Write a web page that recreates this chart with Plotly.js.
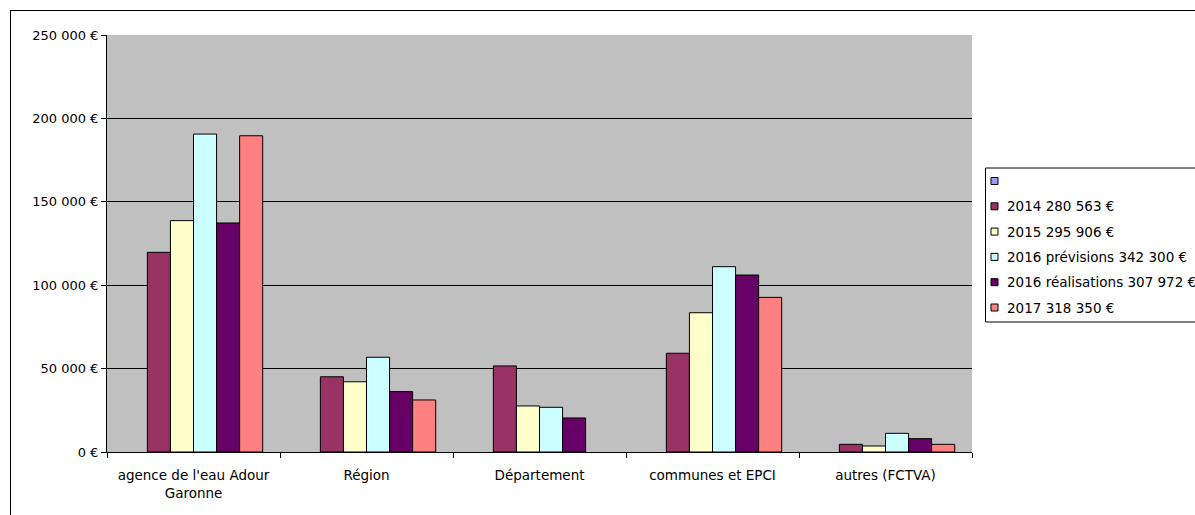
<!DOCTYPE html>
<html><head><meta charset="utf-8">
<script src="https://cdn.plot.ly/plotly-3.0.1.min.js"></script>
<style>body{margin:0;background:#fff}#frame{position:absolute;left:10px;top:10px;width:1300px;height:600px;border-left:1px solid #000;border-top:1px solid #000;pointer-events:none}</style>
</head><body>
<div id="chart" style="width:1195px;height:515px;"></div>
<div id="frame"></div>
<script>
const categories = ["agence de l'eau Adour<br>Garonne", "Région", "Département", "communes et EPCI", "autres (FCTVA)"];
const seriesNames = ["", "2014 280 563 €", "2015 295 906 €", "2016 prévisions 342 300 €", "2016 réalisations 307 972 €", "2017 318 350 €"];
const vEmpty = [null, null, null, null, null];
const v2014 = [119700, 45100, 51600, 59200, 4600];
const v2015 = [138700, 42100, 27600, 83500, 3600];
const v2016p = [190600, 56800, 26800, 111100, 11200];
const v2016r = [137300, 36200, 20400, 106100, 8000];
const v2017 = [189600, 31200, null, 92700, 4600];
const colors = ["#9999FF", "#993366", "#FFFFCC", "#CCFFFF", "#660066", "#FF8080"];
const allValues = [vEmpty, v2014, v2015, v2016p, v2016r, v2017];

const traces = allValues.map((vals, i) => ({
  type: 'bar', x: categories, y: vals, name: seriesNames[i],
  marker: {color: colors[i], line: {color: '#000', width: 1}}
}));

// custom legend (layout helpers: pixel -> paper)
const M = {l: 107, r: 223, t: 35, b: 63};
const W = 1195, H = 515;
const pw = W - M.l - M.r, ph = H - M.t - M.b;
const px = v => (v - M.l) / pw;
const py = v => (H - M.b - v) / ph;

const shapes = [{type: 'rect', xref: 'paper', yref: 'paper', x0: px(985.5), x1: px(1210), y0: py(168), y1: py(322),
  line: {color: '#000', width: 1}, fillcolor: '#fff', layer: 'above'}];
const annotations = [];
seriesNames.forEach((n, i) => {
  const cy = 181 + i * 25.3;
  shapes.push({type: 'rect', xref: 'paper', yref: 'paper', x0: px(991), x1: px(998), y0: py(cy + 3.5), y1: py(cy - 3.5),
    line: {color: '#000', width: 1}, fillcolor: colors[i], layer: 'above'});
  if (n) annotations.push({xref: 'paper', yref: 'paper', x: px(1005), y: py(cy), xanchor: 'left', yanchor: 'middle',
    text: n, showarrow: false, font: {size: 13.5}});
});

const layout = {
  width: W, height: H,
  margin: {l: M.l, r: M.r, t: M.t, b: M.b, autoexpand: false},
  paper_bgcolor: '#fff', plot_bgcolor: '#C0C0C0',
  font: {family: 'DejaVu Sans, Liberation Sans, Arial, sans-serif', size: 13, color: '#000'},
  separators: ', ',
  barmode: 'group', bargap: 0.2, bargroupgap: 0,
  showlegend: false,
  shapes: shapes, annotations: annotations,
  xaxis: {showline: true, linecolor: '#000', linewidth: 1, ticks: 'outside', tickson: 'boundaries',
    ticklen: 5, tickcolor: '#000', showgrid: false, mirror: false, fixedrange: true, ticklabelstandoff: 11,
    tickfont: {size: 13.5}},
  yaxis: {range: [0, 250000], dtick: 50000, tickformat: ',.0f', ticksuffix: ' €',
    showline: true, linecolor: '#000', linewidth: 1, ticks: 'outside', ticklen: 5, tickcolor: '#000',
    showgrid: true, gridcolor: '#000', gridwidth: 1, zeroline: false}
};
Plotly.newPlot('chart', traces, layout, {displayModeBar: false, staticPlot: true});
</script>
</body></html>
